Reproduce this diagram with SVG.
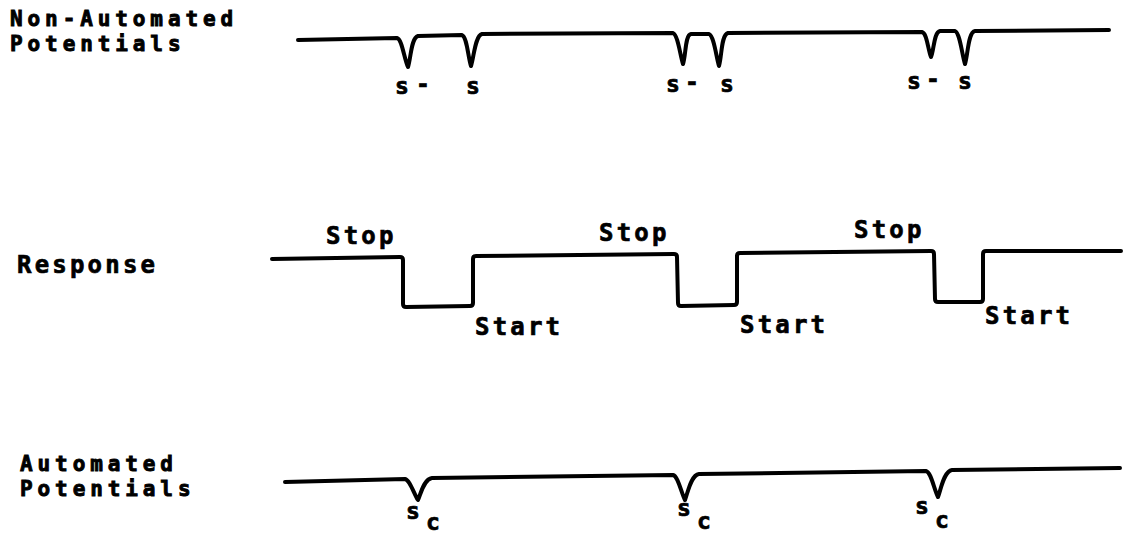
<svg xmlns="http://www.w3.org/2000/svg" width="1123" height="535" viewBox="0 0 1123 535">
  <style>
    .trace { fill: none; stroke: #000; stroke-width: 4; stroke-linejoin: round; stroke-linecap: round; }
    .lbl { font-family: "DejaVu Sans Mono", "Liberation Mono", monospace; font-weight: bold; font-size: 24px; fill: #000; stroke: #000; stroke-width: 0.7; letter-spacing: 3.2px; }
    .ttl { font-family: "DejaVu Sans Mono", "Liberation Mono", monospace; font-weight: bold; font-size: 21px; fill: #000; stroke: #000; stroke-width: 0.9; letter-spacing: 4.9px; }
    .mark { font-family: "DejaVu Sans Mono", "Liberation Mono", monospace; font-weight: bold; font-size: 23px; fill: #000; stroke: #000; stroke-width: 0.7; }
  </style>
  <rect width="1123" height="535" fill="#fff"/>

  <!-- row titles -->
  <g id="title-non-automated">
    <text class="ttl" x="10" y="26">Non-Automated</text>
    <text class="ttl" x="10" y="51">Potentials</text>
  </g>
  <g id="title-response">
    <text class="lbl" x="17" y="273">Response</text>
  </g>
  <g id="title-automated">
    <text class="ttl" x="20" y="471">Automated</text>
    <text class="ttl" x="20" y="496">Potentials</text>
  </g>

  <!-- traces -->
  <g id="traces">
    <path class="trace" d="M298,40 L397,38 C402,39 404,58 408,67 C411,58 411,38 418,36 L462,35 C467,37 468,57 471,66 C474,57 475,36 482,34
      L673,33 C678,35 680,55 683,64 C686,55 685,35 691,34 L709,34 C714,36 716,56 719,66 C722,56 721,35 728,33
      L922,32 C927,33 928,50 931,57 C934,50 934,32 940,31 L955,31 C960,33 962,55 965,64 C968,55 968,32 975,31 L1109,30"/>
    <path class="trace" d="M272,259 L400,257 Q403,257 403,260 L403,304 Q403,307 406,307 L470,306 Q473,306 473,303 L473,259 Q473,256 476,256
      L674,254 Q677,254 677,257 L678,303 Q678,306 681,306 L734,305 Q737,305 737,302 L737,256 Q737,253 740,253
      L931,251 Q934,251 934,254 L935,299 Q935,302 938,302 L980,302 Q983,302 983,299 L983,254 Q983,251 986,251 L1121,251"/>
    <path class="trace" d="M285,482 L405,479 C410,480 414,494 418,500 C421,493 424,479 432,478
      L673,475 C678,476 681,492 685,500 C688,492 691,475 699,474
      L926,471 C931,472 934,489 938,497 C941,489 944,471 952,470 L1120,468"/>
  </g>

  <!-- spike labels, non-automated -->
  <g id="spikes-non-automated">
    <text class="mark" x="395" y="94">s</text><text class="mark" x="416" y="92">-</text>
    <text class="mark" x="466" y="94">s</text>
    <text class="mark" x="666" y="92">s</text><text class="mark" x="685" y="90">-</text>
    <text class="mark" x="720" y="92">s</text>
    <text class="mark" x="907" y="89">s</text><text class="mark" x="926" y="87">-</text>
    <text class="mark" x="958" y="89">s</text>
  </g>

  <!-- response states -->
  <g id="states-response">
    <text class="lbl" x="326" y="244">Stop</text>
    <text class="lbl" x="599" y="241">Stop</text>
    <text class="lbl" x="854" y="238">Stop</text>
    <text class="lbl" x="475" y="335">Start</text>
    <text class="lbl" x="740" y="333">Start</text>
    <text class="lbl" x="985" y="324">Start</text>
  </g>

  <!-- spike labels, automated -->
  <g id="spikes-automated">
    <text class="mark" x="406" y="519">s</text><text class="mark" x="426" y="530">c</text>
    <text class="mark" x="677" y="516">s</text><text class="mark" x="697" y="529">c</text>
    <text class="mark" x="915" y="514">s</text><text class="mark" x="935" y="528">c</text>
  </g>
</svg>
